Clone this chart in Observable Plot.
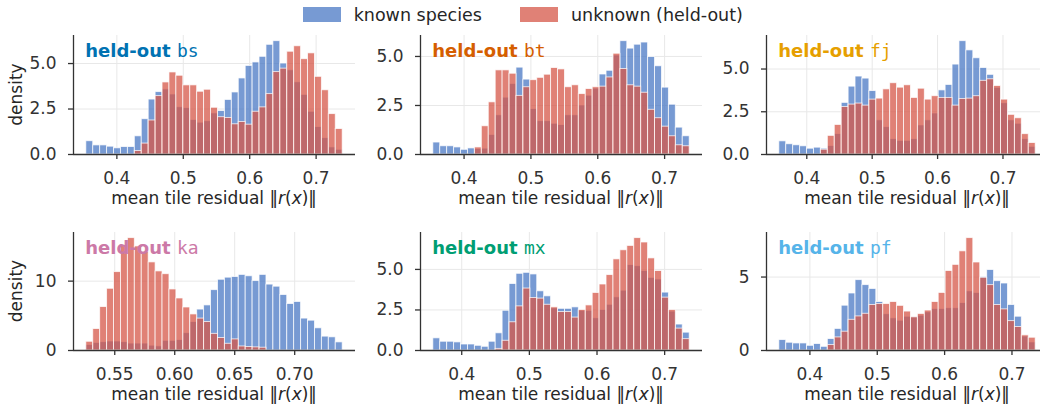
<!DOCTYPE html>
<html>
<head>
<meta charset="utf-8">
<script src="https://cdn.jsdelivr.net/npm/d3@7"></script>
<script src="https://cdn.jsdelivr.net/npm/@observablehq/plot@0.6"></script>
<style>
  body { margin: 0; background: #fff; }
  #chart { position: relative; width: 1040px; height: 407px; overflow: hidden; background: #fff;
           font-family: "DejaVu Sans", sans-serif; color: #262626; }
  .legend-item { position: absolute; top: 0; height: 29px; display: flex; align-items: center;
                 font-size: 17.5px; white-space: nowrap; }
  .swatch { display: inline-block; width: 38px; height: 14.5px; margin-right: 13px; }
  .panel { position: absolute; }
</style>
</head>
<body>
<div id="chart"></div>
<script>
// Held-out species codes and their highlight colours
const speciesCodes = ["bs", "bt", "fj", "ka", "mx", "pf"];
const speciesColors = ["#0072B2", "#D55E00", "#E69F00", "#CC79A7", "#009E73", "#56B4E9"];

// Series names
const seriesNames = ["known species", "unknown (held-out)"];

// Histogram ranges [first edge, last edge]; each histogram uses equal-width bins
const rangeBs = [0.354, 0.740];
const rangeBt = [0.354, 0.7375];
const rangeFj = [0.358, 0.750];
const rangeKa = [0.5263, 0.740];
const rangeMx = [0.358, 0.737];
const rangePf = [0.3546, 0.7352];

// Density per bin: known species vs the held-out (unknown) species
const knownBs   = [0.73,0.5,0.5,0.43,0.34,0.41,0.41,1.0,1.94,3.02,3.43,3.58,3.3,2.6,2.55,1.9,1.75,1.83,2.26,2.39,3.0,3.41,4.18,4.87,5.06,5.37,6.03,6.23,5.0,4.63,3.97,3.28,2.35,1.51,0.9,0.39,0.26];
const unknownBs = [0,0,0,0,0,0,0,0.19,0.6,1.87,3.21,3.96,4.51,4.33,3.8,3.8,3.45,3.56,2.57,2.05,2.01,1.66,1.79,1.64,2.35,2.59,3.32,4.53,4.72,5.65,5.95,5.24,5.56,4.27,3.53,2.22,1.4];

const knownBt   = [0.61,0.42,0.42,0.36,0.24,0.31,0.28,0.3,1.0,2.0,2.9,3.6,4.43,3.82,2.32,1.7,1.7,1.57,1.5,2.0,2.0,2.5,3.0,3.36,4.08,4.27,5.05,5.78,5.4,5.6,5.71,4.97,4.5,3.41,2.54,1.37,0.93];
const unknownBt = [0,0,0,0,0,0,0.36,1.44,2.66,4.29,4.29,4.12,2.99,3.43,3.79,3.91,4.07,4.41,4.34,3.43,3.53,3.08,3.34,3.43,3.46,3.93,5.14,4.36,3.53,3.46,3.15,2.28,1.85,1.42,0.93,0.47,0.42];

const knownFj   = [0.77,0.6,0.54,0.48,0.34,0.4,0.34,0.5,1.2,3.02,3.97,4.56,4.44,3.71,2.0,1.6,0.9,0.8,0.8,0.9,1.7,2.0,2.4,3.75,4.07,5.26,6.63,6.09,5.63,5.06,4.66,3.9,3.0,2.0,1.8,0.9,0.45];
const unknownFj = [0,0,0,0,0,0,0.28,1.09,1.73,2.78,2.92,2.98,2.86,3.21,3.27,3.81,4.17,3.91,4.05,3.31,3.85,3.21,3.41,3.31,3.31,2.86,3.25,3.27,3.41,4.31,4.4,4.01,3.21,2.32,2.12,1.19,0.67];

const knownKa   = [0.8,1.1,1.2,1.3,1.3,1.2,1.0,1.0,1.0,0.7,0.6,1.4,1.4,1.5,2.5,4.1,5.9,6.5,8.7,10.2,10.5,10.6,10.9,10.7,10.0,10.9,9.5,9.2,8.0,6.7,7.0,4.6,4.3,3.2,2.0,1.9,1.17];
const unknownKa = [1.26,3.1,6.26,8.9,11.3,15.2,16.2,15.0,14.2,12.7,11.4,11.0,8.8,7.5,6.2,5.2,4.6,4.1,2.4,1.8,0.97,1.6,0.58,0.5,0.45,0.4,0,0,0,0,0,0,0,0,0,0,0];

const knownMx   = [0.75,0.54,0.54,0.5,0.37,0.37,0.29,0.23,0.54,1.06,2.45,4.1,4.73,4.79,4.69,3.65,3.34,2.6,2.57,2.57,2.66,2.45,2.45,1.99,2.5,2.82,3.28,3.69,5.27,5.2,4.9,4.48,4.38,3.57,2.4,1.6,1.1];
const unknownMx = [0,0,0,0,0,0,0,0,0,0.1,0.6,1.74,2.72,3.82,3.24,3.2,2.82,2.66,2.37,2.37,2.03,2.5,2.78,3.55,4.07,4.65,5.62,6.18,6.45,6.93,6.66,5.68,4.9,3.26,2.5,1.35,0.7];

const knownPf   = [0.71,0.53,0.48,0.48,0.32,0.44,0.25,0.78,1.47,3.05,3.88,4.79,4.45,4.19,3.3,2.47,2.19,2.03,2.3,2.26,2.37,2.6,2.83,2.83,2.88,2.88,3.23,4.03,3.92,5.0,5.48,4.72,4.56,3.1,2.3,0.95,0.55];
const unknownPf = [0,0,0,0,0,0,0,0.37,0.89,1.28,2.09,2.32,2.5,3.1,3.16,3.16,3.3,3.04,2.65,2.26,2.49,2.72,3.3,3.92,5.41,5.83,6.75,7.65,5.99,4.95,4.45,3.1,2.8,2.0,1.6,1.03,0.87];

// Tick values
const xTicksMain = [0.4, 0.5, 0.6, 0.7];
const xTicksKa = [0.55, 0.60, 0.65, 0.70];
const yTicksMain = [0, 2.5, 5];
const yTicksKa = [0, 10];
const yTicksPf = [0, 5];

// Styling
const BLUE = "#4a78c4";
const RED = "#d65748";
const ALPHA = 0.75;
const AXIS = "#333333";
const GRID = "#e8e8e8";

const panels = [
  {range: rangeBs, known: knownBs, unknown: unknownBs, xTicks: xTicksMain, xFmt: ".1f", yTicks: yTicksMain, yFmt: ".1f"},
  {range: rangeBt, known: knownBt, unknown: unknownBt, xTicks: xTicksMain, xFmt: ".1f", yTicks: yTicksMain, yFmt: ".1f"},
  {range: rangeFj, known: knownFj, unknown: unknownFj, xTicks: xTicksMain, xFmt: ".1f", yTicks: yTicksMain, yFmt: ".1f"},
  {range: rangeKa, known: knownKa, unknown: unknownKa, xTicks: xTicksKa, xFmt: ".2f", yTicks: yTicksKa, yFmt: "d"},
  {range: rangeMx, known: knownMx, unknown: unknownMx, xTicks: xTicksMain, xFmt: ".1f", yTicks: yTicksMain, yFmt: ".1f"},
  {range: rangePf, known: knownPf, unknown: unknownPf, xTicks: xTicksMain, xFmt: ".1f", yTicks: yTicksPf, yFmt: "d"}
];

// Layout of the 2 x 3 grid
const colLeft = [72.7, 420, 765.7];
const rowTop = [35, 232];
const rowHeight = [119, 118];
const W = 282;
const ML = 72, MR = 4, MT = 4, MB = 58;

const chart = document.getElementById("chart");

// Legend
const legendLeft = [302.7, 520];
seriesNames.forEach((name, k) => {
  const item = document.createElement("div");
  item.className = "legend-item";
  item.style.left = legendLeft[k] + "px";
  const sw = document.createElement("span");
  sw.className = "swatch";
  sw.style.background = k === 0 ? BLUE : RED;
  sw.style.opacity = ALPHA;
  item.appendChild(sw);
  item.appendChild(document.createTextNode(name));
  chart.appendChild(item);
});

function toBins(values, lo, hi) {
  const w = (hi - lo) / values.length;
  return values
    .map((v, i) => ({x1: lo + i * w, x2: lo + (i + 1) * w, y: v}))
    .filter(d => d.y > 0);
}

panels.forEach((p, k) => {
  const col = k % 3, row = Math.floor(k / 3);
  const [lo, hi] = p.range;
  const pad = 0.05 * (hi - lo);
  const x0 = lo - pad, x1 = hi + pad;
  const ymax = 1.05 * d3.max([...p.known, ...p.unknown]);
  const h = rowHeight[row];

  const barStyle = {
    x1: "x1", x2: "x2", y1: () => 0, y2: "y",
    fillOpacity: ALPHA, stroke: "white", strokeWidth: 0.9, strokeOpacity: 0.8
  };

  const svg = Plot.plot({
    width: ML + W + MR,
    height: MT + h + MB,
    marginLeft: ML, marginRight: MR, marginTop: MT, marginBottom: MB,
    style: {fontFamily: "'DejaVu Sans', sans-serif", fontSize: "17px", color: AXIS,
            background: "transparent", overflow: "visible"},
    x: {domain: [x0, x1], label: null},
    y: {domain: [0, ymax], label: null},
    marks: [
      Plot.gridX(p.xTicks, {stroke: GRID, strokeOpacity: 1, strokeWidth: 1}),
      Plot.gridY(p.yTicks, {stroke: GRID, strokeOpacity: 1, strokeWidth: 1}),
      Plot.rect(toBins(p.known, lo, hi), {...barStyle, fill: BLUE}),
      Plot.rect(toBins(p.unknown, lo, hi), {...barStyle, fill: RED}),
      Plot.ruleY([0], {stroke: AXIS, strokeWidth: 1.3}),
      Plot.ruleX([x0], {stroke: AXIS, strokeWidth: 1.3}),
      Plot.axisX(p.xTicks, {tickFormat: d3.format(p.xFmt), tickSize: 5, tickPadding: 12.5,
                            label: null, strokeWidth: 1.3}),
      Plot.axisY(p.yTicks, {tickFormat: d3.format(p.yFmt), tickSize: 5, tickPadding: 12,
                            label: null, strokeWidth: 1.3})
    ]
  });

  const s = d3.select(svg);

  // Panel title: "held-out" + species code
  const title = s.append("text")
    .attr("x", ML + 12.3)
    .attr("y", MT + 21.7)
    .attr("text-anchor", "start")
    .attr("fill", speciesColors[k])
    .style("font-size", "18px")
    .style("white-space", "pre");
  title.append("tspan").attr("font-weight", "bold").text("held-out ");
  title.append("tspan").attr("font-family", "'DejaVu Sans Mono', monospace").text(speciesCodes[k]);

  // x-axis label
  const xl = s.append("text")
    .attr("x", ML + W / 2)
    .attr("y", MT + h + 49.5)
    .attr("text-anchor", "middle")
    .attr("fill", "#262626")
    .style("font-size", "17px");
  xl.append("tspan").text("mean tile residual \u2016");
  xl.append("tspan").attr("font-style", "italic").text("r");
  xl.append("tspan").text("(");
  xl.append("tspan").attr("font-style", "italic").text("x");
  xl.append("tspan").text(")\u2016");

  // y-axis label on the left column
  if (col === 0) {
    s.append("text")
      .attr("transform", `translate(${21.5 - (colLeft[col] - ML)},${MT + h / 2}) rotate(-90)`)
      .attr("text-anchor", "middle")
      .attr("fill", "#262626")
      .style("font-size", "17px")
      .text("density");
  }

  svg.classList.add("panel");
  svg.style.left = (colLeft[col] - ML) + "px";
  svg.style.top = (rowTop[row] - MT) + "px";
  chart.appendChild(svg);
});
</script>
</body>
</html>
